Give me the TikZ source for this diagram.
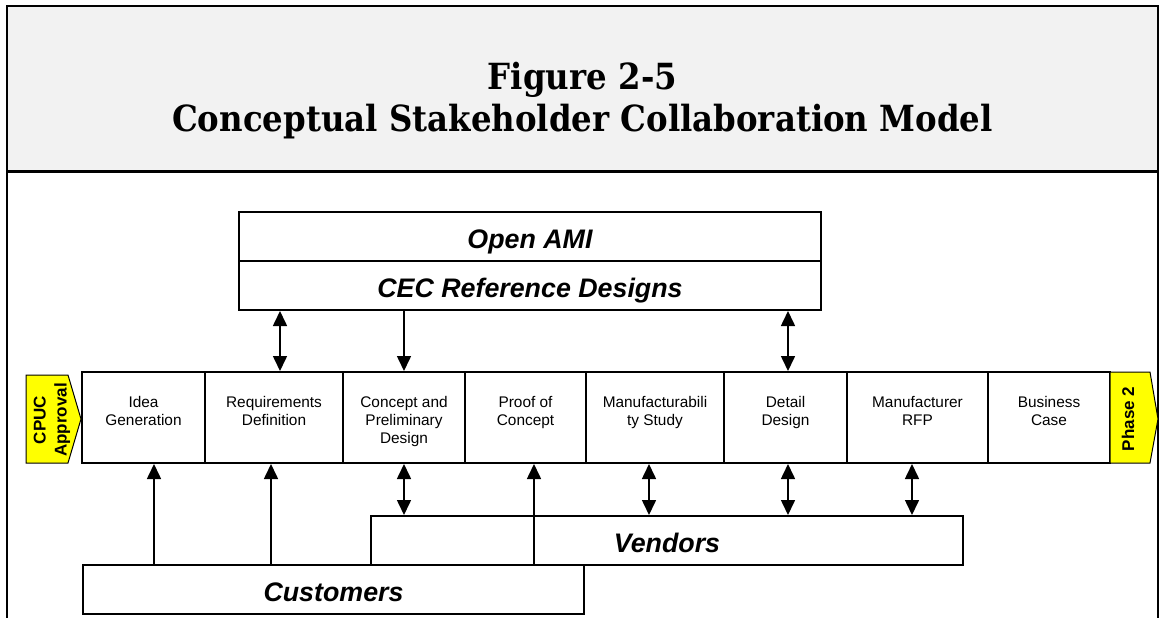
\documentclass[tikz,border=0pt]{standalone}
\usepackage{fontspec}
\setmainfont{Liberation Sans}
\newfontfamily\titlefont[FakeStretch=0.9]{DejaVu Serif}
\usetikzlibrary{arrows.meta,calc}

\definecolor{hdrgray}{HTML}{F2F2F2}
\definecolor{gateyellow}{HTML}{FFFF00}

\tikzset{
	box/.style={draw, line width=2pt, inner sep=0pt, text height=24pt, text depth=0pt, font=\fontsize{26.8}{32}\selectfont\bfseries\itshape},
	stage/.style={draw, line width=2pt, inner sep=0pt, minimum height=91},
	stagetext/.style={anchor=north, inner sep=0pt, align=center, font=\fontsize{15.4}{18}\selectfont},
	gate/.style={draw=black, line width=1pt, fill=gateyellow},
	gatetext/.style={rotate=90, inner sep=0pt, align=center, font=\fontsize{17}{21}\selectfont\bfseries},
	oneway/.style={line width=1.6pt, -{Triangle[width=14pt,length=15pt]}},
	twoway/.style={line width=1.6pt, {Triangle[width=14pt,length=15pt]}-{Triangle[width=14pt,length=15pt]}}
}

\begin{document}
\begin{tikzpicture}[x=1pt, y=-1pt]
			%%%%% START %%%%%
			\useasboundingbox (0,0) rectangle (1162,618);
			
			% heading band
			\fill[hdrgray] (7,6) rectangle (1158,171);
			\draw[line width=2pt] (7,618) -- (7,6) -- (1158,6) -- (1158,618);
			\draw[line width=3pt] (7,171) -- (1158,171);
			\node[anchor=base, font=\titlefont\fontsize{36}{42}\selectfont\bfseries] (fig) at (582.5,89) {Figure 2-5};
			\node[anchor=base, font=\titlefont\fontsize{36}{42}\selectfont\bfseries] (name) at (582.5,131) {Conceptual Stakeholder Collaboration Model};
			
			% standards on top
			\node[box, minimum width=582, minimum height=49] (ami) at (530,236.5) {Open AMI};
			\node[box, minimum width=582, minimum height=49] (cec) at (530,285.5) {CEC Reference Designs};
			
			% process steps
			\foreach \n/\xa/\xb/\t in {idea/82/205/{Idea\\Generation},
					req/205/343/{Requirements\\Definition},
					concept/343/465/{Concept and\\Preliminary\\Design},
					proof/465/586/{Proof of\\Concept},
					manuf/586/724/{Manufacturabili\\ty Study},
					detail/724/847/{Detail\\Design},
					rfp/847/988/{Manufacturer\\RFP},
					biz/988/1110/{Business\\Case}} {
				\node[stage, minimum width=\xb-\xa] (\n) at ({(\xa+\xb)/2},417.5) {};
				\node[stagetext] (\n-t) at ($(\n.north)+(0,25)$) {\t};
			}
			
			% phase gates
			\draw[gate] (26,375) -- (68,375) -- (81,419) -- (68,463) -- (26,463) -- cycle;
			\node[gatetext] (cpuc) at (52,420) {CPUC\\Approval};
			\draw[gate] (1110,372) -- (1150,372) -- (1158,419) -- (1150,463) -- (1110,463) -- cycle;
			\node[gatetext] (phase) at (1128,419) {Phase 2};
			
			% stakeholders below
			\node[box, minimum width=592, minimum height=49] (vend) at (667,540.5) {Vendors};
			\node[box, fill=white, minimum width=501, minimum height=49] (cust) at (333.5,589.5) {Customers};
			
			% arrow columns
			\foreach \n/\x in {a/280, b/404, c/788, d/154, e/271, f/534, g/649, h/912}
				\coordinate (col\n) at (\x,0);
			
			\draw[twoway] (cec.south -| cola) -- (req.north -| cola);
			\draw[oneway] (cec.south -| colb) -- (concept.north -| colb);
			\draw[twoway] (cec.south -| colc) -- (detail.north -| colc);
			
			\draw[oneway] (cust.north -| cold) -- (idea.south -| cold);
			\draw[oneway] (cust.north -| cole) -- (req.south -| cole);
			\draw[oneway] (cust.north -| colf) -- (proof.south -| colf);
			
			\draw[twoway] (vend.north -| colb) -- (concept.south -| colb);
			\draw[twoway] (vend.north -| colg) -- (manuf.south -| colg);
			\draw[twoway] (vend.north -| colc) -- (detail.south -| colc);
			\draw[twoway] (vend.north -| colh) -- (rfp.south -| colh);
			%%%%% END %%%%%
\end{tikzpicture}
\end{document}
